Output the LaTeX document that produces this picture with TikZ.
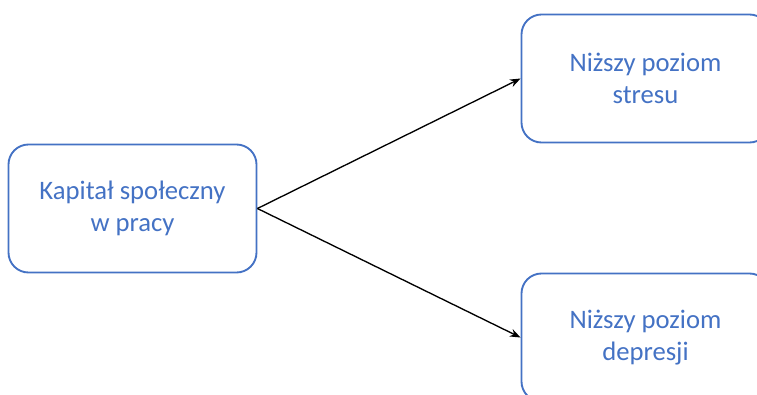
\documentclass[tikz,border=0pt]{standalone}
\usepackage{fontspec}
\setmainfont{Carlito}
\usetikzlibrary{arrows.meta}
\definecolor{boxblue}{HTML}{4472C4}
\tikzset{
    box/.style={draw=boxblue, line width=1.4pt, rounded corners=15pt,
        minimum width=186pt, minimum height=96pt, align=center,
        text=boxblue, font=\fontsize{20}{24}\selectfont},
    link/.style={-{Stealth[length=8pt,width=6pt]}, line width=1pt, black}
}
\begin{document}
\begin{tikzpicture}[x=0.75pt,y=-0.75pt]
    % page size of the reference, in pixels
    \useasboundingbox (0,0) rectangle (757,394);
    \clip (0,0) rectangle (757,394);

    % boxes
    \node[box] (kapital) at (132.5,208.5) {Kapitał społeczny\\w pracy};
    \node[box] (stres) at (645.5,78.5) {Niższy poziom\\stresu};
    \node[box] (depresja) at (645.5,337.5) {Niższy poziom\\depresji};

    % arrows
    \draw[link] (kapital.east) -- (stres.west);
    \draw[link] (kapital.east) -- (depresja.west);
\end{tikzpicture}
\end{document}
